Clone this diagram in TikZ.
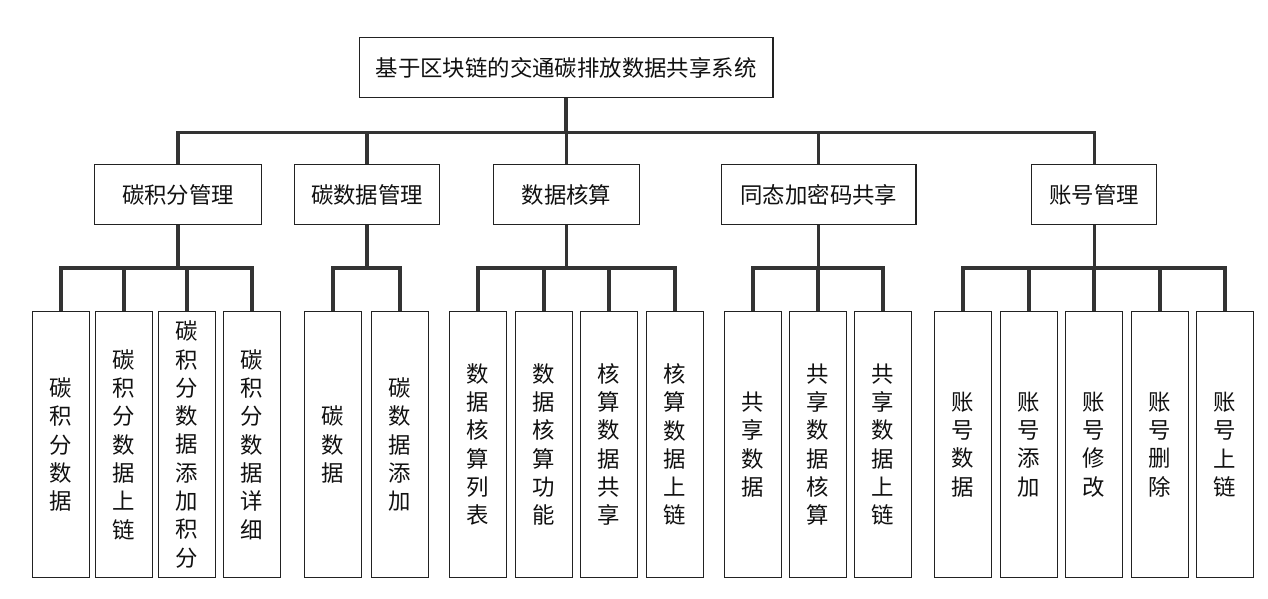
\documentclass[tikz,border=0pt]{standalone}
\usepackage{fontspec}
\setmainfont{Noto Sans CJK SC}
\definecolor{linec}{HTML}{333333}
\definecolor{boxc}{HTML}{222222}
\definecolor{txtc}{HTML}{111111}
\tikzset{
  box/.style={draw=boxc, line width=1.3pt, fill=white, inner sep=0pt, text=txtc,
    font=\fontsize{22.4}{28.3}\selectfont, align=center},
  rootbox/.style={box, minimum width=413.7pt, minimum height=60.4pt},
  midbox/.style={box, minimum height=59.6pt},
  leafbox/.style={box, minimum width=57.4pt, minimum height=265.6pt},
  conn/.style={draw=linec, line width=3.2pt}
}
\begin{document}
\begin{tikzpicture}[x=1pt,y=-1pt]
\useasboundingbox[fill=white] (0,0) rectangle (1268,598);
% root
\node[rootbox] (root) at (566,67.5) {基于区块链的交通碳排放数据共享系统};
% level 2
\node[midbox, minimum width=166.6pt] (A) at (178,194.5) {碳积分管理};
\node[midbox, minimum width=144.6pt] (B) at (367,194.5) {碳数据管理};
\node[midbox, minimum width=145.6pt] (C) at (566.5,194.5) {数据核算};
\node[midbox, minimum width=194.3pt] (D) at (818.8,194.5) {同态加密码共享};
\node[midbox, minimum width=125pt] (E) at (1094.2,194.5) {账号管理};
% leaves
\node[leafbox] (a1) at (61,444.5) {碳\\积\\分\\数\\据};
\node[leafbox] (a2) at (124,444.5) {碳\\积\\分\\数\\据\\上\\链};
\node[leafbox] (a3) at (187,444.5) {碳\\积\\分\\数\\据\\添\\加\\积\\分};
\node[leafbox] (a4) at (252,444.5) {碳\\积\\分\\数\\据\\详\\细};
\node[leafbox] (b1) at (333,444.5) {碳\\数\\据};
\node[leafbox] (b2) at (400,444.5) {碳\\数\\据\\添\\加};
\node[leafbox] (c1) at (478,444.5) {数\\据\\核\\算\\列\\表};
\node[leafbox] (c2) at (544,444.5) {数\\据\\核\\算\\功\\能};
\node[leafbox] (c3) at (609,444.5) {核\\算\\数\\据\\共\\享};
\node[leafbox] (c4) at (675,444.5) {核\\算\\数\\据\\上\\链};
\node[leafbox] (d1) at (753,444.5) {共\\享\\数\\据};
\node[leafbox] (d2) at (818,444.5) {共\\享\\数\\据\\核\\算};
\node[leafbox] (d3) at (883,444.5) {共\\享\\数\\据\\上\\链};
\node[leafbox] (e1) at (963,444.5) {账\\号\\数\\据};
\node[leafbox] (e2) at (1029,444.5) {账\\号\\添\\加};
\node[leafbox] (e3) at (1094,444.5) {账\\号\\修\\改};
\node[leafbox] (e4) at (1160,444.5) {账\\号\\删\\除};
\node[leafbox] (e5) at (1225,444.5) {账\\号\\上\\链};
% connectors root -> level 2
\foreach \c in {A,B,C,D,E}
  \draw[conn] (root.south) -- ++(0,34) -| (\c.north);
% level 2 -> leaves
\foreach \c in {a1,a2,a3,a4}
  \draw[conn] (A.south) -- ++(0,43) -| (\c.north);
\foreach \c in {b1,b2}
  \draw[conn] (B.south) -- ++(0,43) -| (\c.north);
\foreach \c in {c1,c2,c3,c4}
  \draw[conn] (C.south) -- ++(0,43) -| (\c.north);
\foreach \c in {d1,d2,d3}
  \draw[conn] (D.south) -- ++(0,43) -| (\c.north);
\foreach \c in {e1,e2,e3,e4,e5}
  \draw[conn] (E.south) -- ++(0,43) -| (\c.north);
\end{tikzpicture}
\end{document}
